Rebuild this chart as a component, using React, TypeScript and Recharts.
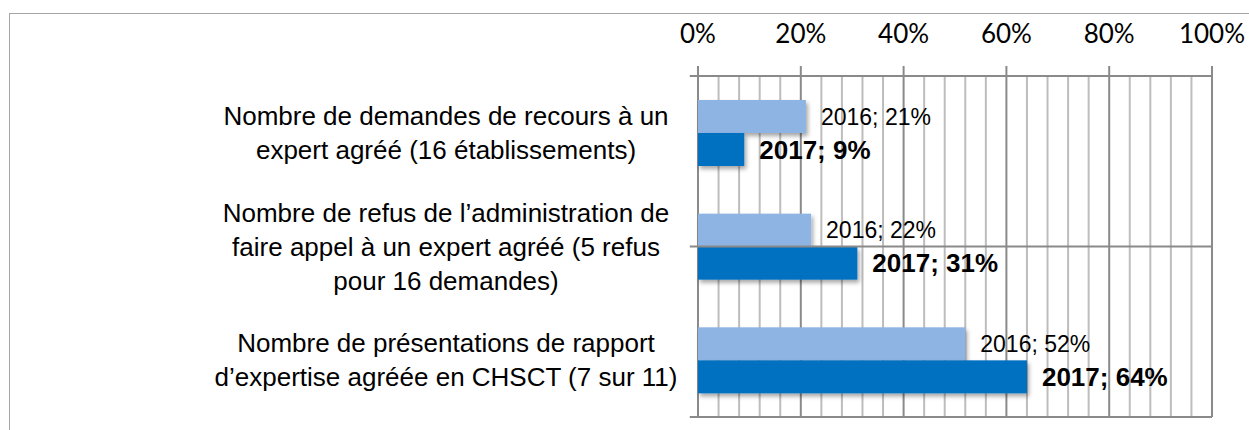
import { BarChart, Bar, XAxis, YAxis, CartesianGrid, ReferenceLine, LabelList } from 'recharts'

const categories = [
  'Nombre de demandes de recours à un\nexpert agréé (16 établissements)',
  'Nombre de refus de l’administration de\nfaire appel à un expert agréé (5 refus\npour 16 demandes)',
  'Nombre de présentations de rapport\nd’expertise agréée en CHSCT (7 sur 11)',
]
const values2016 = [0.21, 0.22, 0.52]
const values2017 = [0.09, 0.31, 0.64]
const majorTicks = [0, 0.2, 0.4, 0.6, 0.8, 1]
// minor gridlines every 4% (between the major ones)
const minorTicks = [0.04, 0.08, 0.12, 0.16, 0.24, 0.28, 0.32, 0.36, 0.44, 0.48, 0.52, 0.56, 0.64, 0.68, 0.72, 0.76, 0.84, 0.88, 0.92, 0.96]
const bandEdges = [0, 1, 2, 3]

const data = categories.map((name, i) => ({ name, y2016: values2016[i], y2017: values2017[i] }))

const MAJOR = '#8a8a8a'
const MINOR = '#bdbdbd'
const ARIAL = '"Liberation Sans", Arial, sans-serif'

const pct = (v: number) => `${Math.round(v * 100)}%`

function CategoryTick(props: any) {
  const { x, y, payload } = props
  const lines: string[] = String(payload.value).split('\n')
  const lh = 34
  const cx = x - 252
  const top = y - ((lines.length - 1) * lh) / 2 + 9
  return (
    <text x={cx} y={top} textAnchor="middle" fill="#000" fontSize={26} fontFamily={ARIAL}>
      {lines.map((l, i) => (
        <tspan key={i} x={cx} y={top + i * lh}>{l}</tspan>
      ))}
    </text>
  )
}

function ShadowBar(props: any) {
  const { x, y, width, height, fill } = props
  return <rect x={x} y={y} width={width} height={height} fill={fill} filter="url(#barShadow)" />
}

export default function App() {
  return (
    <div style={{ position: 'absolute', left: 0, top: 0, width: 1249, height: 430, overflow: 'hidden', background: '#fff' }}>
      <div style={{ position: 'absolute', left: 9, top: 13, width: 1400, height: 600, border: '1.5px solid #a6a6a6' }} />
      <div style={{ position: 'absolute', left: 0, top: 0 }}>
        <BarChart
          width={1249}
          height={430}
          data={data}
          layout="vertical"
          margin={{ top: 0, right: 37, bottom: 13, left: 0 }}
          barGap={0}
          barCategoryGap={24}
        >
          <defs>
            <filter id="barShadow" x="-10%" y="-30%" width="130%" height="180%">
              <feDropShadow dx={2} dy={3} stdDeviation={2} floodColor="#000" floodOpacity={0.35} />
            </filter>
          </defs>
          <XAxis
            type="number"
            orientation="top"
            domain={[0, 1]}
            ticks={majorTicks}
            interval={0}
            tickFormatter={pct}
            height={76}
            tickSize={10}
            tickMargin={23}
            tick={{ fill: '#000', fontSize: 26, fontFamily: 'Lato, "Open Sans", sans-serif' }}
            tickLine={{ stroke: MAJOR, strokeWidth: 2 }}
            axisLine={{ stroke: MAJOR, strokeWidth: 2 }}
          />
          <YAxis
            type="category"
            dataKey="name"
            width={698}
            tickSize={0}
            tickMargin={0}
            tickLine={false}
            axisLine={false}
            tick={<CategoryTick />}
            interval={0}
          />
          <YAxis yAxisId="bands" type="number" domain={[0, 3]} ticks={bandEdges} hide />
          <CartesianGrid horizontal={false} verticalValues={minorTicks} stroke={MINOR} strokeWidth={2} />
          <CartesianGrid horizontal={false} stroke={MAJOR} strokeWidth={2} />
          {bandEdges.map(e => (
            <ReferenceLine
              key={e}
              yAxisId="bands"
              segment={[{ x: -0.016, y: e }, { x: 1, y: e }]}
              ifOverflow="visible"
              stroke={MAJOR}
              strokeWidth={2}
            />
          ))}
          <Bar dataKey="y2016" fill="#8eb4e3" isAnimationActive={false} shape={<ShadowBar />}>
            <LabelList
              dataKey="y2016"
              position="right"
              offset={15}
              formatter={(v: any) => `2016; ${pct(Number(v))}`}
              style={{ fill: '#000', fontSize: 23, fontFamily: ARIAL }}
            />
          </Bar>
          <Bar dataKey="y2017" fill="#0070c0" isAnimationActive={false} shape={<ShadowBar />}>
            <LabelList
              dataKey="y2017"
              position="right"
              offset={15}
              formatter={(v: any) => `2017; ${pct(Number(v))}`}
              style={{ fill: '#000', fontSize: 26, fontWeight: 'bold', fontFamily: ARIAL }}
            />
          </Bar>
        </BarChart>
      </div>
    </div>
  )
}
